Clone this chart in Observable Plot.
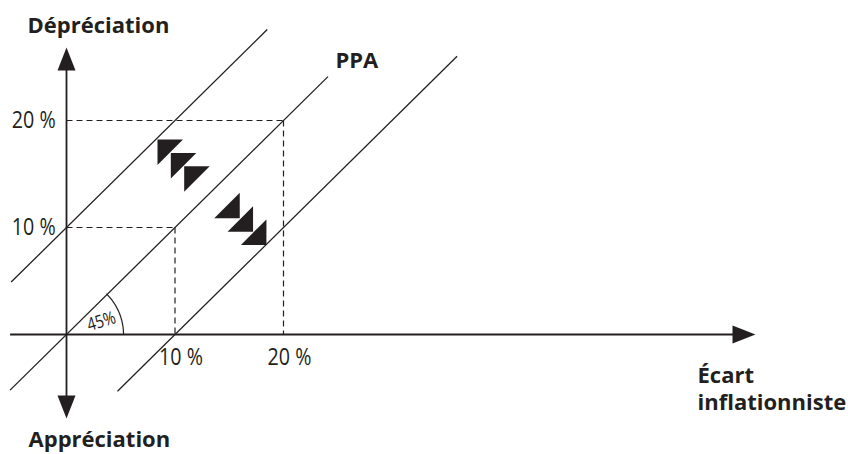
<!DOCTYPE html>
<html>
<head>
<meta charset="utf-8">
<script src="https://cdn.jsdelivr.net/npm/d3@7"></script>
<script src="https://cdn.jsdelivr.net/npm/@observablehq/plot@0.6"></script>
<style>
  html, body { margin: 0; padding: 0; background: #fff; }
  #chart svg { display: block; }
</style>
</head>
<body>
<div id="chart"></div>
<script>
// ---- data ----
const lineNames   = ["Dépréciation +10 %", "PPA", "Appréciation −10 %"];
const lineOffset  = [10, 0, -10];        // y = x + offset
const lineStartX  = [-5.1, -5.2, 4.7];
const lineEndX    = [18.5, 24.1, 36.0];

const guideValues = [10, 20];            // dashed guides to x = y
const tickValues  = [10, 20];
const tickLabels  = ["10 %", "20 %"];

const upperArrowX = [9.56, 10.79, 12.02];
const upperArrowY = [17.03, 15.78, 14.53];
const lowerArrowX = [14.79, 16.02, 17.25];
const lowerArrowY = [12.05, 10.80, 9.56];

const axisXMin = -5.2, axisXMax = 63.5;
const axisYMin = -7.85, axisYMax = 26.82;
const angleLabel = "45%";
const angleDegrees = 45;

const yAxisTitleTop = "Dépréciation";
const yAxisTitleBottom = "Appréciation";
const xAxisTitle = "Écart\ninflationniste";
const ppaLabel = "PPA";

// ---- geometry helpers ----
const W = 848, H = 454;
const kx = 10.85, ky = 10.7, ox = 66, oy = 334;
const ink = "#231f20";

const lines = lineNames.map((name, i) => ({
  name, x1: lineStartX[i], y1: lineStartX[i] + lineOffset[i],
  x2: lineEndX[i], y2: lineEndX[i] + lineOffset[i]
}));
const guidesH = guideValues.map(v => ({x1: 0, y1: v, x2: v, y2: v}));
const guidesV = guideValues.map(v => ({x1: v, y1: v, x2: v, y2: 0}));
const ticks = tickValues.map((v, i) => ({v, label: tickLabels[i]}));

const arcR = 57; // px
const arc = d3.range(0, angleDegrees + 1, 1).map(a => ({
  x: arcR * Math.cos(a * Math.PI / 180) / kx,
  y: arcR * Math.sin(a * Math.PI / 180) / ky
}));

const A = 12.75;
const triUL = {draw(ctx) { ctx.moveTo(-A, -A); ctx.lineTo(A, -A); ctx.lineTo(-A, A); ctx.closePath(); }};
const triLR = {draw(ctx) { ctx.moveTo(A, -A); ctx.lineTo(A, A); ctx.lineTo(-A, A); ctx.closePath(); }};
const head = {draw(ctx) { ctx.moveTo(0, 0); ctx.lineTo(-9, 23); ctx.lineTo(9, 23); ctx.closePath(); }};

const upper = upperArrowX.map((x, i) => ({x, y: upperArrowY[i]}));
const lower = lowerArrowX.map((x, i) => ({x, y: lowerArrowY[i]}));
const heads = [
  {x: 0, y: axisYMax, r: 0},
  {x: 0, y: axisYMin, r: 180},
  {x: axisXMax, y: 0, r: 90}
];

const condensed = "'Open Sans', 'Noto Sans', sans-serif";
const bold = "'Open Sans', 'Noto Sans', sans-serif";

const chart = Plot.plot({
  width: W, height: H,
  margin: 0,
  style: {background: "#fff", overflow: "visible"},
  x: {domain: [-ox / kx, (W - ox) / kx], range: [0, W], axis: null},
  y: {domain: [(oy - H) / ky, oy / ky], range: [H, 0], axis: null},
  marks: [
    // dashed guides
    Plot.link(guidesH, {x1: "x1", y1: "y1", x2: "x2", y2: "y2", stroke: ink, strokeWidth: 1.2, strokeDasharray: "6,4"}),
    Plot.link(guidesV, {x1: "x1", y1: "y1", x2: "x2", y2: "y2", stroke: ink, strokeWidth: 1.2, strokeDasharray: "6,4"}),
    // parallel lines
    Plot.link(lines, {x1: "x1", y1: "y1", x2: "x2", y2: "y2", stroke: ink, strokeWidth: 1.3}),
    // axes
    Plot.link([{x1: axisXMin, y1: 0, x2: axisXMax - 1, y2: 0}], {x1: "x1", y1: "y1", x2: "x2", y2: "y2", stroke: ink, strokeWidth: 1.8}),
    Plot.link([{x1: 0, y1: axisYMin + 1, x2: 0, y2: axisYMax - 1}], {x1: "x1", y1: "y1", x2: "x2", y2: "y2", stroke: ink, strokeWidth: 1.8}),
    Plot.dot(heads, {x: "x", y: "y", rotate: "r", symbol: head, r: 10, fill: ink, stroke: "none"}),
    // angle arc
    Plot.line(arc, {x: "x", y: "y", stroke: ink, strokeWidth: 1.2}),
    Plot.text([angleLabel], {x: 3.22, y: 1.22, text: d => d, rotate: -17, fontSize: 18, fontFamily: condensed, fill: ink, className: "cond"}),
    // arrow triangles
    Plot.dot(upper, {x: "x", y: "y", symbol: triUL, r: 10, fill: ink, stroke: "none"}),
    Plot.dot(lower, {x: "x", y: "y", symbol: triLR, r: 10, fill: ink, stroke: "none"}),
    // tick labels
    Plot.text(ticks, {x: -1.0, y: "v", text: "label", textAnchor: "end", fontSize: 24, fontFamily: condensed, fill: ink, className: "cond"}),
    Plot.text(ticks, {x: "v", y: 0, dx: 6, dy: 23, text: "label", fontSize: 24, fontFamily: condensed, fill: ink, className: "cond"}),
    // titles
    Plot.text([yAxisTitleTop], {x: -3.59, y: 28.22, text: d => d, textAnchor: "start", lineAnchor: "bottom", fontSize: 22, fontWeight: "bold", fontFamily: bold, fill: ink}),
    Plot.text([yAxisTitleBottom], {x: -3.50, y: -10.47, text: d => d, textAnchor: "start", lineAnchor: "bottom", fontSize: 22, fontWeight: "bold", fontFamily: bold, fill: ink}),
    Plot.text([ppaLabel], {x: 24.79, y: 24.86, text: d => d, textAnchor: "start", lineAnchor: "bottom", fontSize: 22, fontWeight: "bold", fontFamily: bold, fill: ink}),
    Plot.text([xAxisTitle], {x: 58.16, y: -7.10, text: d => d, textAnchor: "start", lineAnchor: "bottom", lineHeight: 1.23, fontSize: 22, fontWeight: "bold", fontFamily: bold, fill: ink})
  ]
});

// condensed look: narrow the regular-weight labels horizontally
d3.select(chart).selectAll(".cond text").each(function() {
  const t = this.getAttribute("transform");
  if (t) {
    this.setAttribute("transform", t + " scale(0.82,1)");
  } else {
    const x = +(this.getAttribute("x") || 0), y = +(this.getAttribute("y") || 0);
    this.removeAttribute("x"); this.removeAttribute("y");
    this.setAttribute("transform", `translate(${x},${y}) scale(0.82,1)`);
  }
});

document.getElementById("chart").appendChild(chart);
</script>
</body>
</html>
